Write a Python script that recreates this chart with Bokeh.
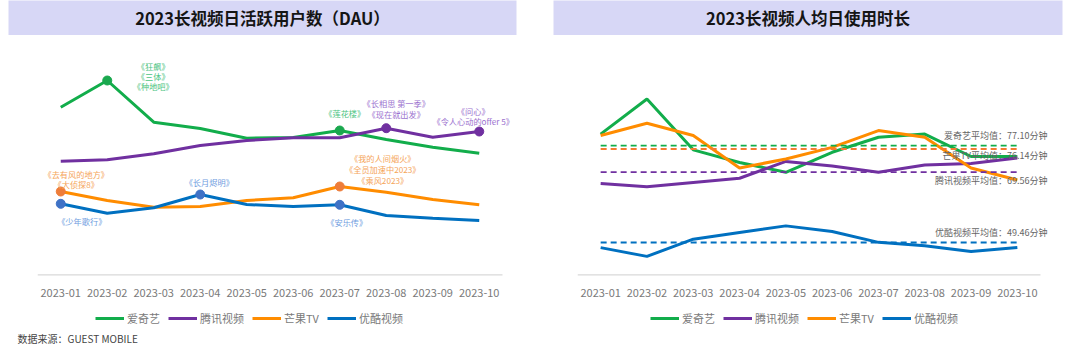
from bokeh.plotting import figure
from bokeh.layouts import column, row
from bokeh.models import Range1d, FixedTicker, Label, Legend, LegendItem
from bokeh.embed import file_html
from bokeh.resources import INLINE
from bokeh.core.properties import value

# ---------------- data ----------------
months = ["2023-01", "2023-02", "2023-03", "2023-04", "2023-05",
          "2023-06", "2023-07", "2023-08", "2023-09", "2023-10"]
series_names = ["爱奇艺", "腾讯视频", "芒果TV", "优酷视频"]

# DAU (relative scale, no y axis shown in the original)
dau_iqiyi = [168.3, 195.0, 153.3, 147.0, 137.3, 138.0, 145.0, 136.0, 128.3, 122.3]
dau_tencent = [114.3, 115.7, 121.7, 130.0, 135.0, 137.7, 137.7, 147.3, 138.3, 144.0]
dau_mango = [84.0, 75.0, 68.3, 69.0, 75.0, 77.7, 89.0, 83.3, 76.0, 70.7]
dau_youku = [71.7, 62.3, 67.7, 81.0, 71.0, 69.0, 70.7, 60.0, 57.3, 55.0]

# average daily usage time per user (minutes)
time_iqiyi = [80.4, 90.4, 75.9, 72.3, 69.5, 75.2, 79.5, 80.4, 74.0, 74.0]
time_tencent = [66.3, 65.4, 66.6, 67.8, 72.6, 71.3, 69.5, 71.6, 72.0, 73.6]
time_mango = [80.0, 83.5, 80.0, 70.7, 73.3, 76.6, 81.4, 79.5, 70.7, 67.3]
time_youku = [48.0, 45.5, 50.4, 52.3, 54.2, 52.6, 49.5, 48.5, 46.9, 48.0]
avg_minutes = [77.10, 69.56, 76.14, 49.46]

# highlighted points on DAU chart: (series index, month index)
dau_markers = [(0, 1), (0, 6), (1, 7), (1, 9), (2, 0), (2, 6), (3, 0), (3, 3), (3, 6)]
# annotations: (series index, month index, lines)
dau_notes = [
    (0, 1, ["《狂飙》", "《三体》", "《种地吧》"]),
    (2, 0, ["《去有风的地方》", "《大侦探8》"]),
    (3, 3, ["《长月烬明》"]),
    (3, 0, ["《少年歌行》"]),
    (0, 6, ["《莲花楼》"]),
    (1, 7, ["《长相思 第一季》", "《现在就出发》"]),
    (1, 9, ["《问心》", "《令人心动的offer 5》"]),
    (2, 6, ["《我的人间烟火》", "《全员加速中2023》", "《乘风2023》"]),
    (3, 6, ["《安乐传》"]),
]
source_text = "数据来源：GUEST MOBILE"
title_left = "2023长视频日活跃用户数（DAU）"
title_right = "2023长视频人均日使用时长"

# ---------------- styles ----------------
FONT = "Noto Sans CJK SC"
line_colors = ["#12ad4b", "#7030a0", "#ff8c00", "#0070c0"]
marker_colors = ["#1aa84e", "#7030a0", "#ee7d3a", "#3f72c6"]
note_colors = ["#4cc47f", "#9b72cf", "#f5a55a", "#6f9de0"]
dash_colors = ["#12ad4b", "#7030a0", "#f47b30", "#0070c0"]
note_offsets = [
    (46, [15, 5, -5]),
    (15.5, [17.7, 7.7]),
    (9, [13]),
    (21, [-17]),
    (5, [17.7]),
    (10, [25, 14.4]),
    (-6, [20.3, 10.3]),
    (43, [28.3, 17.7, 7]),
    (7, [-17.4]),
]
avg_label_offsets = [10, -8.5, -7, 10]
BAND = "#d7d7f6"
xs = list(range(len(months)))


def bare_fig(w, h, left=0, right=0):
    f = figure(x_range=Range1d(0, 1), y_range=Range1d(0, 1), frame_width=w, frame_height=h,
               min_border_left=left, min_border_right=right, min_border_top=0, min_border_bottom=0,
               toolbar_location=None, output_backend="svg", x_axis_location=None, y_axis_location=None)
    f.outline_line_color = None
    f.grid.visible = False
    f.border_fill_color = "white"
    f.background_fill_color = "white"
    return f


def title_fig(text, left, w, right):
    t = bare_fig(w, 35, left, right)
    t.background_fill_color = BAND
    t.text(x=[0.5], y=[0.5], text=[text], text_align="center", text_baseline="middle",
           text_font=value(FONT), text_font_size="16.5px", text_font_style="bold", text_color="#151515")
    return t


def chart_fig(y_range, axis_len, extra_right, left, right):
    step = axis_len / len(months)
    frame_w = axis_len + extra_right
    x_end = -0.5 + frame_w / step
    p = figure(x_range=Range1d(-0.5, x_end), y_range=y_range,
               frame_width=frame_w, frame_height=240,
               min_border_left=left, min_border_right=right, min_border_top=0, min_border_bottom=28,
               toolbar_location=None, output_backend="svg", y_axis_location=None)
    p.outline_line_color = None
    p.grid.visible = False
    p.background_fill_color = "white"
    p.xaxis.ticker = FixedTicker(ticks=xs)
    p.xaxis.major_label_overrides = {i: m for i, m in enumerate(months)}
    p.xaxis.axis_line_color = None
    p.xaxis.major_tick_line_color = None
    p.xaxis.minor_tick_line_color = None
    p.xaxis.major_label_text_font = FONT
    p.xaxis.major_label_text_font_size = "11px"
    p.xaxis.major_label_text_color = "#7a7a7a"
    p.xaxis.major_label_standoff = 7
    # baseline of the category axis
    p.segment(x0=[-0.5], x1=[len(months) - 0.5], y0=[y_range.start], y1=[y_range.start],
              line_color="#d9d9d9", line_width=2.4)
    return p


def legend_fig(x_loc, with_source):
    f = bare_fig(540, 48)
    # off-frame proxy lines that only supply the legend swatches
    rs = [f.line([0, 1], [-5, -5], line_color=c, line_width=3) for c in line_colors]
    items = [LegendItem(label=n, renderers=[r]) for n, r in zip(series_names, rs)]
    lg = Legend(items=items, orientation="horizontal", location=(x_loc, 25),
                glyph_width=29, glyph_height=14, label_standoff=3, spacing=8,
                padding=0, margin=0, border_line_color=None, background_fill_alpha=0,
                label_text_font=FONT, label_text_font_size="11px", label_text_color="#7a7a7a",
                label_height=14)
    f.add_layout(lg, "center")
    if with_source:
        f.add_layout(Label(x=17, y=13, x_units="screen", y_units="screen", text=source_text,
                           text_align="left", text_baseline="middle", text_font=FONT,
                           text_font_size="10px", text_color="#444444"))
    return f


# ---------------- left chart: DAU ----------------
dau = [dau_iqiyi, dau_tencent, dau_mango, dau_youku]
pl = chart_fig(Range1d(0, 240), 465, 14, 37, 24)
for vals, c in zip(dau, line_colors):
    pl.line(xs, vals, line_color=c, line_width=3)
for si, mi in dau_markers:
    pl.scatter([xs[mi]], [dau[si][mi]], size=9, fill_color=marker_colors[si],
               line_color=marker_colors[si])
for (si, mi, lines), (dx, dys) in zip(dau_notes, note_offsets):
    for txt, dy in zip(lines, dys):
        pl.add_layout(Label(x=xs[mi], y=dau[si][mi], x_offset=dx, y_offset=dy, text=txt,
                            text_align="center", text_baseline="middle", text_font=FONT,
                            text_font_size="8.2px", text_color=note_colors[si]))

# ---------------- right chart: usage time ----------------
tm = [time_iqiyi, time_tencent, time_mango, time_youku]
pr = chart_fig(Range1d(40.04, 108.53), 463, 12, 37, 28)
for vals, c in zip(tm, line_colors):
    pr.line(xs, vals, line_color=c, line_width=3)
for i, (a, c) in enumerate(zip(avg_minutes, dash_colors)):
    pr.segment(x0=[xs[0]], y0=[a], x1=[xs[-1]], y1=[a], line_color=c,
               line_width=1.8, line_dash="6 4")
    pr.add_layout(Label(x=len(months) - 0.5, y=a, x_offset=7, y_offset=avg_label_offsets[i],
                        text=f"{series_names[i]}平均值：{a:.2f}分钟", text_align="right",
                        text_baseline="middle", text_font=FONT, text_font_size="9px",
                        text_color="#666666"))

tl = title_fig(title_left, 8, 508, 24)
tr = title_fig(title_right, 13, 509, 18)
bl = legend_fig(95, True)
br = legend_fig(110, False)

layout = column(row(tl, tr), row(pl, pr), row(bl, br))
open("out.html", "w").write(file_html(layout, INLINE))
